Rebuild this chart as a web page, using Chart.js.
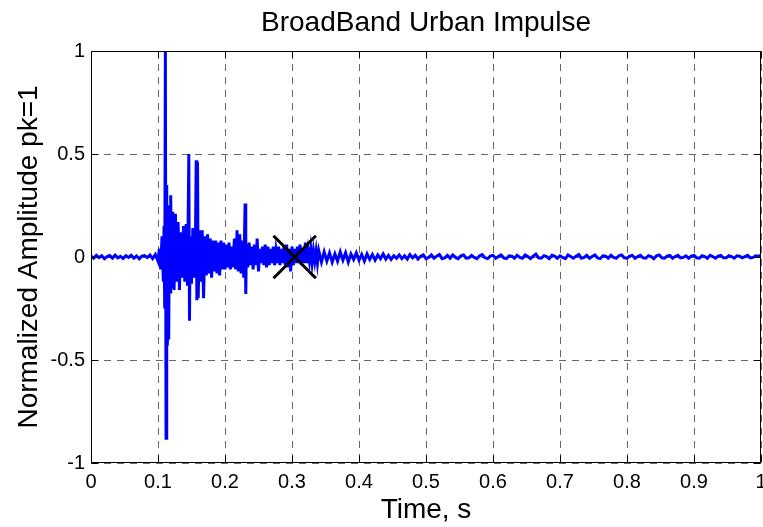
<!DOCTYPE html>
<html lang="en">
<head>
<meta charset="UTF-8">
<title>BroadBand Urban Impulse</title>
<script src="https://cdn.jsdelivr.net/npm/chart.js"></script>
<style>
  body { margin: 0; background: #fff; }
  canvas { display: block; }
</style>
</head>
<body>
<canvas id="impulse" width="763" height="527"></canvas>
<script>
// sample times (s) and normalized amplitude
const timeS = [
  0, 0.004, 0.008, 0.012, 0.016, 0.02, 0.024, 0.028, 0.032, 0.036,
  0.04, 0.044, 0.048, 0.052, 0.056, 0.06, 0.064, 0.068, 0.072, 0.076,
  0.08, 0.084, 0.088, 0.092, 0.096,
  0.1, 0.102, 0.104, 0.106, 0.108, 0.109, 0.11, 0.111, 0.112, 0.113,
  0.114, 0.115, 0.116, 0.117, 0.118, 0.119, 0.12, 0.122, 0.124, 0.126,
  0.128, 0.13, 0.132, 0.134, 0.136, 0.138, 0.14, 0.142, 0.144, 0.146,
  0.147, 0.148, 0.15, 0.152, 0.154, 0.156, 0.157, 0.158, 0.159, 0.16,
  0.162, 0.164, 0.166, 0.168, 0.17, 0.172, 0.174, 0.176, 0.178, 0.18,
  0.182, 0.184, 0.186, 0.188, 0.19, 0.192, 0.194, 0.196, 0.198, 0.2,
  0.202, 0.204, 0.206, 0.208, 0.21, 0.212, 0.214, 0.216, 0.218, 0.22,
  0.222, 0.224, 0.226, 0.228, 0.23, 0.231, 0.232, 0.234, 0.236, 0.238,
  0.24, 0.242, 0.244, 0.246, 0.248, 0.25, 0.252, 0.254, 0.256, 0.258,
  0.26, 0.262, 0.264, 0.266, 0.268, 0.27, 0.272, 0.274, 0.276, 0.278,
  0.28, 0.282, 0.284, 0.286, 0.288, 0.29, 0.292, 0.294, 0.296, 0.298,
  0.3, 0.302, 0.304, 0.306, 0.308, 0.31, 0.312, 0.314, 0.316, 0.318,
  0.32, 0.322, 0.324, 0.326, 0.328, 0.33, 0.332, 0.334, 0.336, 0.338,
  0.34,
  0.344, 0.348, 0.352, 0.356, 0.36, 0.364, 0.368, 0.372, 0.376, 0.38,
  0.384, 0.388, 0.392, 0.396, 0.4, 0.404, 0.408, 0.412, 0.416, 0.42,
  0.424, 0.428, 0.432, 0.436, 0.44, 0.444, 0.448, 0.452, 0.456, 0.46,
  0.464, 0.468, 0.472, 0.476, 0.48, 0.484, 0.488, 0.492, 0.496, 0.5,
  0.504, 0.508, 0.512, 0.516, 0.52, 0.524, 0.528, 0.532, 0.536, 0.54,
  0.544, 0.548, 0.552, 0.556, 0.56, 0.564, 0.568, 0.572, 0.576, 0.58,
  0.584, 0.588, 0.592, 0.596, 0.6, 0.604, 0.608, 0.612, 0.616, 0.62,
  0.624, 0.628, 0.632, 0.636, 0.64, 0.644, 0.648, 0.652, 0.656, 0.66,
  0.664, 0.668, 0.672, 0.676, 0.68, 0.684, 0.688, 0.692, 0.696, 0.7,
  0.704, 0.708, 0.712, 0.716, 0.72, 0.724, 0.728, 0.732, 0.736, 0.74,
  0.744, 0.748, 0.752, 0.756, 0.76, 0.764, 0.768, 0.772, 0.776, 0.78,
  0.784, 0.788, 0.792, 0.796, 0.8, 0.804, 0.808, 0.812, 0.816, 0.82,
  0.824, 0.828, 0.832, 0.836, 0.84, 0.844, 0.848, 0.852, 0.856, 0.86,
  0.864, 0.868, 0.872, 0.876, 0.88, 0.884, 0.888, 0.892, 0.896, 0.9,
  0.904, 0.908, 0.912, 0.916, 0.92, 0.924, 0.928, 0.932, 0.936, 0.94,
  0.944, 0.948, 0.952, 0.956, 0.96, 0.964, 0.968, 0.972, 0.976, 0.98,
  0.984, 0.988, 0.992, 0.996, 1
];
const ampl = [
  0.004, -0.006, 0.008, -0.003, 0.006, -0.008, 0.002, 0.007, -0.005, 0.009,
  -0.004, 0.003, -0.007, 0.006, -0.002, 0.008, -0.006, 0.005, -0.009, 0.004,
  0.007, -0.003, 0.01, -0.008, 0.012,
  -0.02, 0.04, -0.06, 0.1, -0.12, 0.15, -0.25, 1, -0.88, 0.35,
  -0.43, 0.22, -0.4, 0.25, -0.17, 0.3, -0.15, 0.22, -0.16, 0.21,
  -0.12, 0.17, -0.16, 0.12, -0.1, 0.15, -0.12, 0.16, -0.14, 0.5,
  -0.31, 0.1, -0.13, 0.14, -0.1, 0.12, 0.47, -0.21, 0.46, -0.2,
  0.13, -0.12, 0.13, -0.2, 0.1, -0.09, 0.11, -0.08, 0.09, -0.1,
  0.08, -0.07, 0.08, -0.08, 0.07, -0.09, 0.08, -0.06, 0.07, -0.06,
  0.06, -0.05, 0.07, -0.06, 0.05, -0.05, 0.09, -0.06, 0.13, -0.07,
  0.11, -0.08, 0.08, -0.1, 0.26, -0.18, 0.06, -0.05, 0.07, -0.04,
  0.05, -0.06, 0.06, -0.04, 0.09, -0.07, 0.04, -0.03, 0.05, -0.04,
  0.06, -0.05, 0.05, -0.04, 0.04, -0.03, 0.05, -0.04, 0.03, -0.03,
  0.05, -0.04, 0.04, -0.03, 0.05, -0.04, 0.06, -0.05, 0.04, -0.07,
  0.05, -0.04, 0.04, -0.03, 0.05, -0.03, 0.06, -0.04, 0.04, -0.03,
  0.07, -0.03, 0.03, -0.02, 0.04, -0.03, 0.03, -0.02, 0.03, -0.03,
  0.03,
  -0.025, 0.025, -0.02, 0.02, -0.025, 0.015, -0.02, 0.025, -0.015, 0.02,
  -0.025, 0.015, -0.012, 0.02, -0.015, 0.012, -0.02, 0.015, -0.012, 0.012,
  -0.015, 0.01, -0.008, 0.015, -0.01, 0.008, -0.012, 0.006, -0.006, 0.01,
  -0.008, 0.006, -0.01, 0.012, -0.004, 0.008, -0.01, 0.004, 0.01, -0.008,
  -0.002, 0.01, -0.006, 0.004, 0.012, -0.008, -0.004, 0.008, -0.006, 0.01,
  -0.002, -0.008, 0.006, 0.01, -0.006, -0.004, 0.008, -0.002, -0.008, 0.006,
  0.012, -0.004, -0.008, 0.004, 0.008, -0.006, 0.002, 0.01, -0.004, -0.008,
  0.006, 0.004, -0.006, 0.008, -0.002, -0.006, 0.01, 0.002, -0.008, 0.004,
  0.014, -0.004, -0.006, 0.006, 0.002, -0.008, 0.008, 0.004, -0.006, 0.006,
  -0.002, -0.008, 0.01, 0.002, -0.006, 0.004, 0.012, -0.006, -0.002, 0.008,
  -0.006, 0.002, 0.01, -0.004, -0.008, 0.006, 0.004, -0.006, 0.008, -0.002,
  -0.006, 0.006, 0.01, -0.004, -0.006, 0.004, 0.008, -0.006, 0.002, 0.008,
  -0.004, -0.006, 0.006, 0.002, -0.008, 0.006, 0.01, -0.004, -0.006, 0.004,
  0.008, -0.006, 0.002, 0.008, -0.004, -0.002, 0.006, -0.006, 0.004, 0.008,
  -0.004, -0.006, 0.006, 0.002, -0.006, 0.008, 0.002, -0.006, 0.004, 0.008,
  -0.004, -0.004, 0.006, 0.002, -0.006, 0.006, 0.004, -0.004, 0.002, 0.008,
  -0.004, -0.002, 0.006, 0.004, 0.008
];

// the black X marker
const markerT = [0.304];
const markerV = [0];

const xTicks = [0, 0.1, 0.2, 0.3, 0.4, 0.5, 0.6, 0.7, 0.8, 0.9, 1];
const xTickLabels = ['0', '0.1', '0.2', '0.3', '0.4', '0.5', '0.6', '0.7', '0.8', '0.9', '1'];
const yTicks = [-1, -0.5, 0, 0.5, 1];
const yTickLabels = ['-1', '-0.5', '0', '0.5', '1'];

const signal = timeS.map((t, i) => ({ x: t, y: ampl[i] }));
const marker = markerT.map((t, i) => ({ x: t, y: markerV[i] }));

// matlab style box with inward ticks on all four sides
const boxTicks = {
  id: 'boxTicks',
  afterDraw(chart) {
    const { ctx, chartArea: a, scales } = chart;
    const L = Math.round(a.left) + 0.5, R = Math.round(a.right) - 0.5;
    const T = Math.round(a.top) + 0.5, B = Math.round(a.bottom) - 0.5;
    const len = 7;
    ctx.save();
    ctx.strokeStyle = '#000';
    ctx.lineWidth = 1;
    ctx.beginPath();
    ctx.rect(L, T, R - L, B - T);
    xTicks.forEach(v => {
      const px = Math.round(scales.x.getPixelForValue(v)) + 0.5;
      ctx.moveTo(px, B); ctx.lineTo(px, B - len);
      ctx.moveTo(px, T); ctx.lineTo(px, T + len);
    });
    yTicks.forEach(v => {
      const py = Math.round(scales.y.getPixelForValue(v)) + 0.5;
      ctx.moveTo(L, py); ctx.lineTo(L + len, py);
      ctx.moveTo(R, py); ctx.lineTo(R - len, py);
    });
    ctx.stroke();
    ctx.restore();
  }
};

Chart.defaults.font.family = "'Liberation Sans', Arial, sans-serif";
Chart.defaults.color = '#000';

new Chart(document.getElementById('impulse'), {
  type: 'line',
  data: {
    datasets: [
      {
        data: marker,
        showLine: false,
        pointStyle: 'crossRot',
        pointRadius: 30,
        pointBorderWidth: 3,
        pointBorderColor: '#000',
        pointBackgroundColor: '#000',
        order: 0
      },
      {
        data: signal,
        borderColor: '#0000ff',
        borderWidth: 3,
        pointRadius: 0,
        tension: 0,
        order: 1
      }
    ]
  },
  options: {
    responsive: false,
    animation: false,
    layout: { autoPadding: false, padding: { right: 2 } },
    plugins: {
      legend: { display: false },
      tooltip: { enabled: false },
      title: {
        display: true,
        text: 'BroadBand Urban Impulse',
        fullSize: false,
        font: { size: 28, weight: 'normal' },
        padding: { top: 6, bottom: 11.4 }
      }
    },
    scales: {
      x: {
        type: 'linear',
        min: 0,
        max: 1,
        afterBuildTicks: s => { s.ticks = xTicks.map(v => ({ value: v })); },
        afterFit: s => { s.height = 64; s.paddingLeft = 0; s.paddingRight = 0; },
        ticks: {
          font: { size: 20 },
          padding: 7,
          maxRotation: 0,
          autoSkip: false,
          callback: (v, i) => xTickLabels[i]
        },
        grid: { color: '#666', lineWidth: 1, drawTicks: false },
        border: { display: false, dash: [7, 6] },
        title: {
          display: true,
          text: 'Time, s',
          font: { size: 28 },
          padding: { top: 0, bottom: 0 }
        }
      },
      y: {
        type: 'linear',
        min: -1,
        max: 1,
        afterBuildTicks: s => { s.ticks = yTicks.map(v => ({ value: v })); },
        afterFit: s => { s.width = 91; s.paddingTop = 0; s.paddingBottom = 0; },
        ticks: {
          font: { size: 20 },
          padding: 6,
          autoSkip: false,
          callback: (v, i) => yTickLabels[i]
        },
        grid: { color: '#666', lineWidth: 1, drawTicks: false },
        border: { display: false, dash: [7, 6] },
        title: {
          display: true,
          text: 'Normalized Amplitude pk=1',
          font: { size: 28 },
          padding: { top: 12, bottom: 0 }
        }
      }
    }
  },
  plugins: [boxTicks]
});
</script>
</body>
</html>
